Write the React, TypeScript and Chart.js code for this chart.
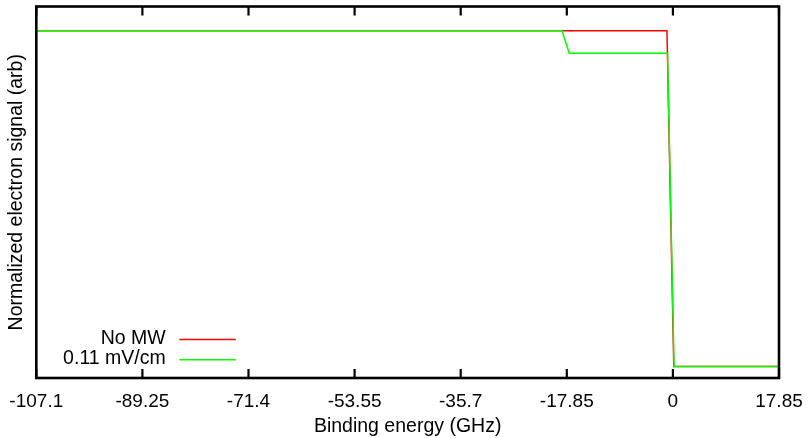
import React, { useEffect, useRef } from "react";
import { Chart, registerables } from "chart.js";

Chart.register(...registerables);

// ---- data ----
const TICK_VALUES = [-107.1, -89.25, -71.4, -53.55, -35.7, -17.85, 0, 17.85];
const TICK_LABELS = ["-107.1", "-89.25", "-71.4", "-53.55", "-35.7", "-17.85", "0", "17.85"];
const X_MIN = -107.1;
const X_MAX = 17.85;
const Y_MIN = -0.034;
const Y_MAX = 1.072;

const NO_MW_X = [-107.1, -1.0, 0.15, 17.85];
const NO_MW_Y = [1.0, 1.0, 0.0, 0.0];
const FIELD_X = [-107.1, -18.66, -17.43, -0.9, 0.2, 17.85];
const FIELD_Y = [1.0, 1.0, 0.933, 0.933, 0.0, 0.0];

const SERIES_LABELS = ["No MW", "0.11 mV/cm"];
const SERIES_COLORS = ["#ff0000", "#00ff00"];
const X_TITLE = "Binding energy (GHz)";
const Y_TITLE = "Normalized electron signal (arb)";

const FONT = "'Liberation Sans', Arial, Helvetica, sans-serif";

const toPoints = (xs: number[], ys: number[]) => xs.map((x, i) => ({ x, y: ys[i] }));

const framePlugin = {
  id: "frame",
  afterDatasetsDraw(chart: any) {
    const { ctx, chartArea } = chart;
    const { left, right, top, bottom } = chartArea;
    const xs = chart.scales.x;
    ctx.save();
    ctx.strokeStyle = "#000";
    ctx.lineWidth = 2.2;
    ctx.lineCap = "butt";
    const tl = 9;
    xs.ticks.forEach((t: any) => {
      const px = xs.getPixelForValue(t.value);
      ctx.beginPath();
      ctx.moveTo(px, bottom);
      ctx.lineTo(px, bottom - tl);
      ctx.moveTo(px, top);
      ctx.lineTo(px, top + tl);
      ctx.stroke();
    });
    ctx.lineWidth = 2.6;
    ctx.lineJoin = "miter";
    ctx.strokeRect(left, top, right - left, bottom - top);
    ctx.restore();
  },
};

const legendPlugin = {
  id: "gpLegend",
  afterDraw(chart: any) {
    const { ctx, chartArea } = chart;
    const ds = chart.data.datasets;
    ctx.save();
    ctx.font = `19.5px ${FONT}`;
    ctx.fillStyle = "#000";
    ctx.textAlign = "right";
    ctx.textBaseline = "middle";
    const textRight = chartArea.left + 129.4;
    const lineStart = chartArea.left + 143;
    const lineEnd = chartArea.left + 199.5;
    const rowYs = [chartArea.bottom - 39.2, chartArea.bottom - 19];
    ds.forEach((d: any, i: number) => {
      const y = rowYs[i];
      ctx.fillText(d.label, textRight, y - 0.5);
      ctx.strokeStyle = d.borderColor;
      ctx.lineWidth = 1.5;
      ctx.beginPath();
      ctx.moveTo(lineStart, y + 0.8);
      ctx.lineTo(lineEnd, y + 0.8);
      ctx.stroke();
    });
    ctx.restore();
  },
};

const bgPlugin = {
  id: "bg",
  beforeDraw(chart: any) {
    const { ctx, width, height } = chart;
    ctx.save();
    ctx.fillStyle = "#fff";
    ctx.fillRect(0, 0, width, height);
    ctx.restore();
  },
};

export default function App() {
  const ref = useRef<HTMLCanvasElement | null>(null);

  useEffect(() => {
    if (!ref.current) return;
    const chart = new Chart(ref.current, {
      type: "line",
      data: {
        datasets: [
          {
            label: SERIES_LABELS[0],
            data: toPoints(NO_MW_X, NO_MW_Y),
            borderColor: SERIES_COLORS[0],
            backgroundColor: SERIES_COLORS[0],
            borderWidth: 1.5,
            pointRadius: 0,
            tension: 0,
            fill: false,
            order: 1,
          },
          {
            label: SERIES_LABELS[1],
            data: toPoints(FIELD_X, FIELD_Y),
            borderColor: SERIES_COLORS[1],
            backgroundColor: SERIES_COLORS[1],
            borderWidth: 1.5,
            pointRadius: 0,
            tension: 0,
            fill: false,
            order: 0,
          },
        ],
      },
      options: {
        animation: false,
        responsive: false,
        events: [],
        layout: { padding: { top: 6.5, right: 31, left: 0, bottom: 0 } },
        plugins: {
          legend: { display: false },
          tooltip: { enabled: false },
        },
        scales: {
          x: {
            type: "linear",
            min: X_MIN,
            max: X_MAX,
            grid: { display: false },
            border: { display: false },
            afterBuildTicks: (scale: any) => {
              scale.ticks = TICK_VALUES.map((v) => ({ value: v }));
            },
            afterFit: (scale: any) => {
              scale.height = 60;
            },
            ticks: {
              autoSkip: false,
              maxRotation: 0,
              padding: 4,
              color: "#000",
              font: { family: FONT, size: 19 },
              callback: (_v: any, i: number) => TICK_LABELS[i],
            },
            title: {
              display: true,
              text: X_TITLE,
              color: "#000",
              font: { family: FONT, size: 19.5 },
              padding: { top: 0, bottom: 0 },
            },
          },
          y: {
            type: "linear",
            min: Y_MIN,
            max: Y_MAX,
            grid: { display: false },
            border: { display: false },
            ticks: { display: false },
            afterFit: (scale: any) => {
              scale.width = 36.3;
            },
            title: {
              display: true,
              text: Y_TITLE,
              color: "#000",
              font: { family: FONT, size: 19.5 },
              padding: { top: 5, bottom: 0 },
            },
          },
        },
      },
      plugins: [bgPlugin, framePlugin, legendPlugin],
    } as any);
    return () => chart.destroy();
  }, []);

  return (
    <div style={{ position: "absolute", left: 0, top: 0, width: 810, height: 438 }}>
      <canvas ref={ref} width={810} height={438} style={{ display: "block" }} />
    </div>
  );
}
